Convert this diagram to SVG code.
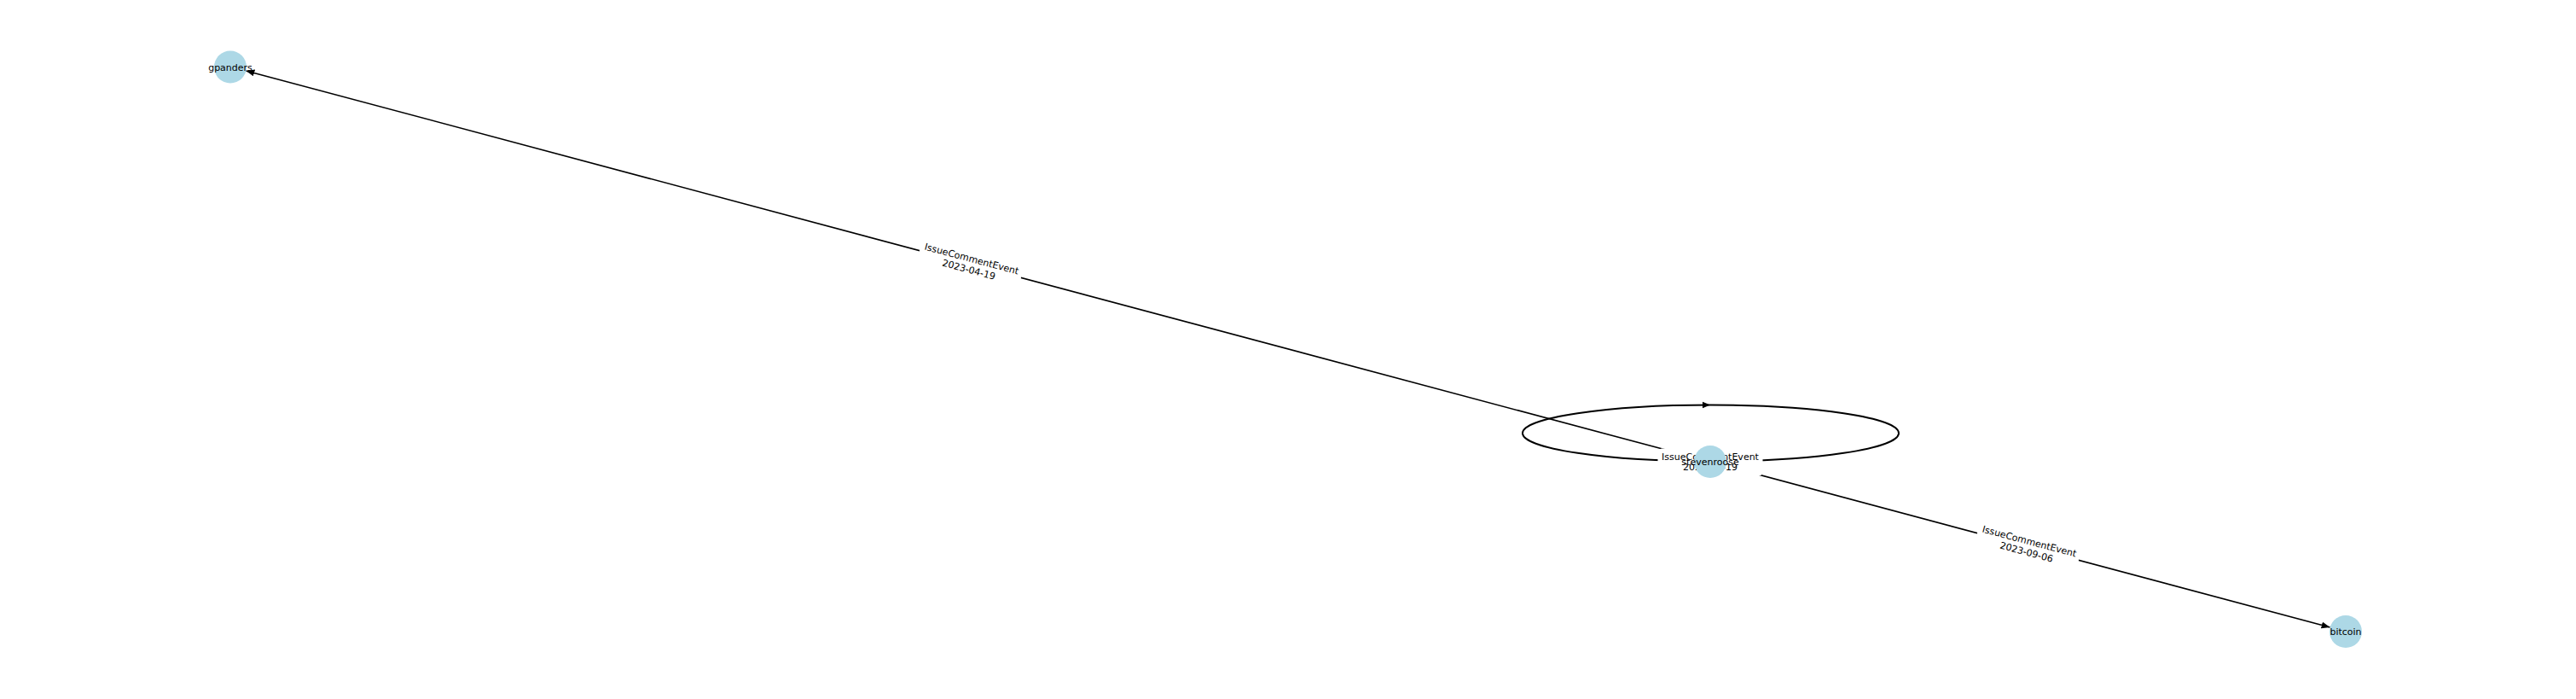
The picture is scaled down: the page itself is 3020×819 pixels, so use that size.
<svg xmlns="http://www.w3.org/2000/svg" width="3020" height="819" viewBox="0 0 3020 819">
<style>
.edge{fill:none;stroke:#000;stroke-width:1.6}
.loop{fill:none;stroke:#000;stroke-width:2}
.node{fill:#add8e6;stroke:none}
.nlabel{font-family:"DejaVu Sans",sans-serif;font-size:11px;fill:#000;text-anchor:middle}
.elabel{font-family:"DejaVu Sans",sans-serif;font-size:11px;fill:#000;text-anchor:middle}
.lbox{fill:#fff;stroke:#fff}
</style>
<defs>
<marker id="arrow" markerUnits="userSpaceOnUse" markerWidth="10" markerHeight="8" viewBox="0 0 10 8" refX="10" refY="4" orient="auto">
<path d="M0,0 L10,4 L0,8 z" fill="#000"/>
</marker>
</defs>
<rect width="3020" height="819" fill="#fff"/>
<g id="connectors">
<line class="edge" x1="1986.6" y1="536.1" x2="288.4" y2="82.9" marker-end="url(#arrow)"/>
<line class="edge" x1="2023.4" y1="545.9" x2="2731.6" y2="735.1" marker-end="url(#arrow)"/>
<ellipse class="loop" cx="2005.5" cy="507.5" rx="220.5" ry="33"/>
<path d="M1996,470.8 L2005,474.5 L1996,478.2 z" fill="#000"/>
</g>
<g id="edge-labels">
<g transform="translate(1137.5,309.5) rotate(14.94)">
<rect class="lbox" x="-61" y="-16" width="122" height="32" rx="4"/>
<text class="elabel" x="0" y="-2.6">IssueCommentEvent</text>
<text class="elabel" x="0" y="10.4">2023-04-19</text>
</g>
<g transform="translate(2377.5,640.5) rotate(14.95)">
<rect class="lbox" x="-61" y="-16" width="122" height="32" rx="4"/>
<text class="elabel" x="0" y="-2.6">IssueCommentEvent</text>
<text class="elabel" x="0" y="10.4">2023-09-06</text>
</g>
<g transform="translate(2005,541)">
<rect class="lbox" x="-61" y="-15" width="122" height="31" rx="4"/>
<text class="elabel" x="0" y="-2.2">IssueCommentEvent</text>
<text class="elabel" x="0" y="10.4">2023-04-19</text>
</g>
</g>
<g id="node-gpanders">
<circle class="node" cx="270" cy="78.5" r="19"/>
<text class="nlabel" x="270" y="82.5">gpanders</text>
</g>
<g id="node-stevenroose">
<circle class="node" cx="2005" cy="541" r="19"/>
<text class="nlabel" x="2005" y="545">stevenroose</text>
</g>
<g id="node-bitcoin">
<circle class="node" cx="2750" cy="740" r="19"/>
<text class="nlabel" x="2750" y="744">bitcoin</text>
</g>
</svg>
